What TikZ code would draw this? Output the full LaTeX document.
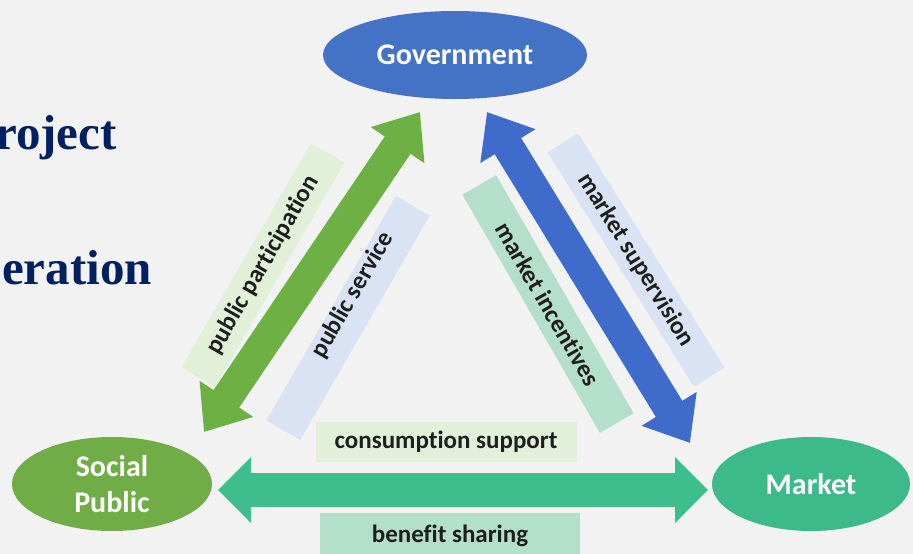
\documentclass[tikz,border=0pt]{standalone}
\usepackage{fontspec}
\setmainfont{Carlito}[Ligatures=NoCommon]
\newfontfamily\headserif{Liberation Serif}
\usetikzlibrary{shapes.geometric,arrows.meta}

\definecolor{bgGray}{HTML}{F2F2F2}
\definecolor{govBlue}{HTML}{4472C4}
\definecolor{arrBlue}{HTML}{3F6CCB}
\definecolor{pubGreen}{HTML}{70AD47}
\definecolor{arrGreen}{HTML}{6DB043}
\definecolor{mktTeal}{HTML}{3CBA8A}
\definecolor{arrTeal}{HTML}{3DBE8C}
\definecolor{boxGreen}{HTML}{E2F0D9}
\definecolor{boxBlue}{HTML}{DAE3F3}
\definecolor{boxTeal}{HTML}{B4DFCB}
\definecolor{navyText}{HTML}{002060}
\definecolor{lblText}{HTML}{1E1E1E}

\tikzset{
  actor/.style={ellipse, inner sep=0pt, text=white,
    font=\bfseries\fontsize{30}{36}\selectfont, align=center},
  labelbox/.style={rectangle, inner sep=0pt, draw=none},
  labeltext/.style={inner sep=0pt, text=lblText,
    font=\bfseries\fontsize{25}{29}\selectfont},
  flow/.style={line width=#1, line cap=butt},
  headline/.style={inner sep=0pt, anchor=base west, text=navyText,
    font=\headserif\bfseries\fontsize{49}{58}\selectfont}
}

\begin{document}
\begin{tikzpicture}[x=1pt,y=-1pt]
  % canvas
  \fill[bgGray] (0,0) rectangle (913,554);
  \useasboundingbox (0,0) rectangle (913,554);

  % title fragments at the left edge
  \node[headline] (t1) at (-5,149) {roject};
  \node[headline] (t2) at (2,284) {eration};

  % the three parties
  \node[actor, fill=govBlue, minimum width=264, minimum height=88] (gov) at (455,55) {Government};
  \node[actor, fill=pubGreen, minimum width=200, minimum height=94] (soc) at (112,484) {Social\\Public};
  \node[actor, fill=mktTeal, minimum width=198, minimum height=94] (mkt) at (811,484) {Market};

  % label strips behind the arrows
  \node[labelbox, fill=boxGreen, minimum width=259, minimum height=39, rotate=60] (ppBox) at (263,265) {};
  \node[labelbox, fill=boxBlue, minimum width=259, minimum height=39, rotate=60] (psBox) at (348,318) {};
  \node[labelbox, fill=boxTeal, minimum width=275, minimum height=39, rotate=-60] (miBox) at (548,304) {};
  \node[labelbox, fill=boxBlue, minimum width=276, minimum height=36, rotate=-58] (msBox) at (636,260) {};
  \node[labelbox, fill=boxGreen, minimum width=261, minimum height=40] (csBox) at (446,442) {};
  \node[labelbox, fill=boxTeal, minimum width=260, minimum height=44] (bsBox) at (450,535) {};

  % arrow end points
  \coordinate (gLow) at (204,432);
  \coordinate (gUp) at (420,112);
  \coordinate (bUp) at (487,112);
  \coordinate (bLow) at (690,443);
  \coordinate (hLeft) at (218,490);
  \coordinate (hRight) at (708,490);

  % two-way flows
  \draw[flow=31pt, arrGreen, {Triangle[length=40pt,width=62pt]}-{Triangle[length=40pt,width=62pt]}] (gLow) -- (gUp);
  \draw[flow=31pt, arrBlue, {Triangle[length=40pt,width=62pt]}-{Triangle[length=40pt,width=62pt]}] (bUp) -- (bLow);
  \draw[flow=34pt, arrTeal, {Triangle[length=33pt,width=64pt]}-{Triangle[length=33pt,width=64pt]}] (hLeft) -- (hRight);

  % labels
  \node[labeltext, rotate=60] (ppText) at (ppBox.center) {public participation};
  \node[labeltext, rotate=60] (psText) at (353,295) {public service};
  \node[labeltext, rotate=-60] (miText) at (miBox.center) {market incentives};
  \node[labeltext, rotate=-58] (msText) at (msBox.center) {market supervision};
  \node[labeltext] (csText) at (csBox.center) {consumption support};
  \node[labeltext] (bsText) at (450,536) {benefit sharing};
\end{tikzpicture}
\end{document}
